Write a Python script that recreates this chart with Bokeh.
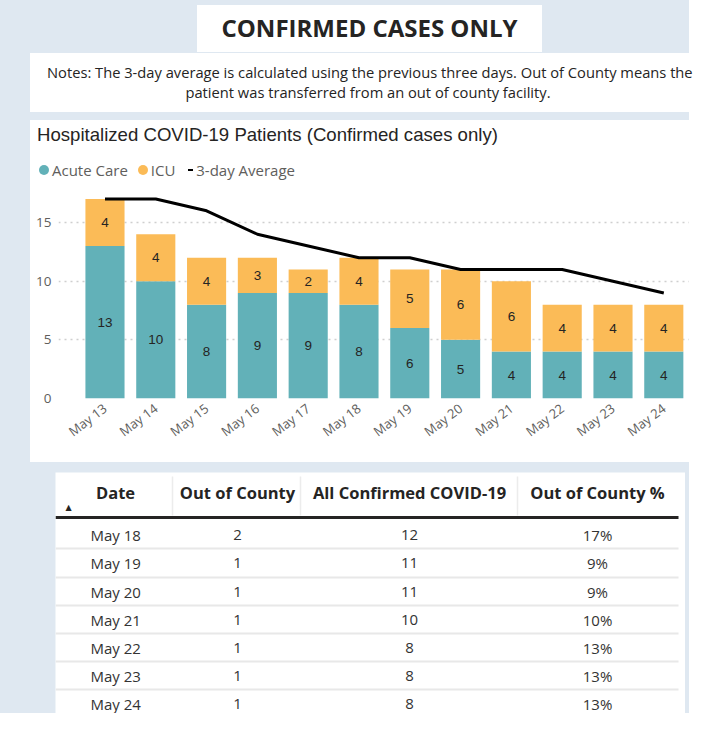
from bokeh.plotting import figure
from bokeh.models import ColumnDataSource, Range1d, FixedTicker, Div
from bokeh.layouts import column
from bokeh.core.properties import value
from bokeh.embed import file_html
from bokeh.resources import INLINE

# ---------------- data ----------------
dates = ["May 13", "May 14", "May 15", "May 16", "May 17", "May 18",
         "May 19", "May 20", "May 21", "May 22", "May 23", "May 24"]
acute = [13, 10, 8, 9, 9, 8, 6, 5, 4, 4, 4, 4]
icu = [4, 4, 4, 3, 2, 4, 5, 6, 6, 4, 4, 4]
avg3 = [17, 17, 16, 14, 13, 12, 12, 11, 11, 11, 10, 9]
y_ticks = [0, 5, 10, 15]

tbl_headers = ["Date", "Out of County", "All Confirmed COVID-19", "Out of County %"]
tbl_dates = ["May 18", "May 19", "May 20", "May 21", "May 22", "May 23", "May 24"]
tbl_out = [2, 1, 1, 1, 1, 1, 1]
tbl_all = [12, 11, 11, 10, 8, 8, 8]
tbl_pct = ["17%", "9%", "9%", "10%", "13%", "13%", "13%"]

title_text = "CONFIRMED CASES ONLY"
notes_line1 = "Notes: The 3-day average is calculated using the previous three days. Out of County means the"
notes_line2 = "patient was transferred from an out of county facility."
chart_title = "Hospitalized COVID-19 Patients (Confirmed cases only)"
legend_labels = ["Acute Care", "ICU", "3-day Average"]

# ---------------- style ----------------
BG = "#dfe8f1"
TEAL = "#62b1b8"
ORANGE = "#fbbb57"
DARK = "#252423"
GRAY = "#605e5c"
W, H = 689, 713

# ---------------- top (title + notes) ----------------
top_html = f"""
<div style="position:relative;width:{W}px;height:112px;">
  <div style="position:absolute;left:197px;top:5px;width:345px;height:47px;background:#ffffff;
       display:flex;align-items:center;justify-content:center;font-family:'Open Sans';font-weight:bold;
       font-size:24px;color:{DARK};white-space:nowrap;">{title_text}</div>
  <div style="position:absolute;left:30px;top:53px;width:659px;height:59px;background:#ffffff;
       font-family:'Open Sans';font-size:14.7px;line-height:20px;color:{DARK};
       text-align:center;white-space:nowrap;">
    <div style="padding-top:9px;padding-left:17px;">{notes_line1}</div>
    <div style="padding-left:17px;">{notes_line2}</div>
  </div>
</div>
"""
top_div = Div(text=top_html, width=W, height=112, margin=0)

# ---------------- chart header (title + legend) ----------------
dot = "display:inline-block;width:10px;height:10px;border-radius:50%;vertical-align:middle;margin-right:3px;"
head_html = f"""
<div style="position:relative;width:659px;height:60px;background:#ffffff;">
  <div style="position:absolute;left:7px;top:2px;font-family:'Liberation Sans';font-size:18.6px;color:{DARK};
       white-space:nowrap;">{chart_title}</div>
  <div style="position:absolute;left:9px;top:38px;font-family:'Open Sans';font-size:15px;color:{GRAY};
       white-space:nowrap;line-height:20px;">
    <span style="{dot}background:{TEAL};"></span><span style="vertical-align:middle;">{legend_labels[0]}</span>
    <span style="{dot}background:{ORANGE};margin-left:6px;"></span><span style="vertical-align:middle;">{legend_labels[1]}</span>
    <span style="display:inline-block;width:5px;height:2px;background:#000;vertical-align:middle;margin-left:9px;margin-right:3px;"></span><span style="vertical-align:middle;">{legend_labels[2]}</span>
  </div>
</div>
"""
head_div = Div(text=head_html, width=659, height=60, margin=0)

# ---------------- chart ----------------
xs = list(range(len(dates)))
src = ColumnDataSource(dict(
    x=xs, acute=acute, icu=icu, avg=avg3,
    acute_mid=[a / 2 for a in acute],
    icu_mid=[a + i / 2 for a, i in zip(acute, icu)],
    acute_lbl=[str(a) for a in acute],
    icu_lbl=[str(i) for i in icu],
))

p = figure(width=659, height=282, x_range=Range1d(-0.915, 11.506), y_range=Range1d(0, 17.56),
           output_backend="svg", toolbar_location=None, margin=0,
           min_border_left=28, min_border_right=0, min_border_top=12, min_border_bottom=64)
p.background_fill_color = "white"
p.border_fill_color = "white"
p.outline_line_color = None

p.vbar_stack(["acute", "icu"], x="x", width=0.77, fill_color=[TEAL, ORANGE],
             line_color=None, source=src)
p.line("x", "avg", line_color="black", line_width=3, source=src)

for ycol, tcol in (("acute_mid", "acute_lbl"), ("icu_mid", "icu_lbl")):
    p.text(x="x", y=ycol, text=tcol, source=src, text_align="center", text_baseline="middle",
           text_font=value("Liberation Sans"), text_font_size="13.5px", text_color=DARK)

p.xaxis.ticker = FixedTicker(ticks=xs)
p.xaxis.major_label_overrides = {i: d for i, d in enumerate(dates)}
p.xaxis.major_label_orientation = 0.65
p.yaxis.ticker = FixedTicker(ticks=y_ticks)
for ax in (p.xaxis, p.yaxis):
    ax.axis_line_color = None
    ax.major_tick_line_color = None
    ax.minor_tick_line_color = None
    ax.major_tick_out = 0
    ax.major_tick_in = 0
    ax.minor_tick_out = 0
    ax.minor_tick_in = 0
    ax.major_label_text_font = "Open Sans"
    ax.major_label_text_font_size = "13px"
    ax.major_label_text_color = GRAY
p.yaxis.major_label_text_font_size = "13.5px"
p.xaxis.major_label_standoff = 8
p.yaxis.major_label_standoff = 7
p.xgrid.visible = False
p.ygrid.grid_line_color = "#cfcfcf"
p.ygrid.grid_line_dash = "2 4"
p.ygrid.grid_line_width = 1.5

chart_col = column(head_div, p, margin=(8, 0, 0, 30), styles={"background-color": "white"})

# ---------------- table ----------------
TW, TH = 630, 241
t = figure(width=TW, height=TH, x_range=Range1d(0, TW), y_range=Range1d(TH, 0),
           output_backend="svg", toolbar_location=None, x_axis_location=None, y_axis_location=None,
           min_border=0, margin=(10, 0, 0, 55))
t.grid.visible = False
t.outline_line_color = None
t.background_fill_color = "white"
t.border_fill_color = "white"

hdr_x = [60, 182, 354, 542]
hdr_y = 20
sep_x = [117, 245, 462]
row_y = [62, 90, 119, 147, 175, 203, 231]
line_y = [76, 105, 133, 161, 189, 217]
line_x1 = 623

t.segment(x0=sep_x, y0=[4] * len(sep_x), x1=sep_x, y1=[43] * len(sep_x), line_color="#ececec", line_width=1.5)
t.segment(x0=[0] * len(line_y), y0=line_y, x1=[line_x1] * len(line_y), y1=line_y, line_color="#e8e8e8", line_width=2)
t.segment(x0=[0], y0=[45], x1=[line_x1], y1=[45], line_color=DARK, line_width=3)

t.text(x=hdr_x, y=[hdr_y] * len(hdr_x), text=tbl_headers, text_align="center", text_baseline="middle",
       text_font=value("Open Sans"), text_font_style="bold", text_font_size="16.5px", text_color=DARK)
t.text(x=[13], y=[35], text=["▲"], text_align="center", text_baseline="middle",
       text_font=value("DejaVu Sans"), text_font_size="8px", text_color=DARK)

tsrc = ColumnDataSource(dict(
    y=row_y, d=tbl_dates, o=[str(v) for v in tbl_out], a=[str(v) for v in tbl_all], pc=tbl_pct))
t.text(x=35, y="y", text="d", source=tsrc, text_align="left", text_baseline="middle",
       text_font=value("Open Sans"), text_font_size="15px", text_color="#333333")
for xc, col in ((hdr_x[1], "o"), (hdr_x[2], "a"), (hdr_x[3], "pc")):
    t.text(x=xc, y="y", text=col, source=tsrc, text_align="center", text_baseline="middle",
           text_font=value("Open Sans"), text_font_size="15px", text_color="#333333")

root = column(top_div, chart_col, t, width=W, height=H, styles={"background-color": BG})

open("out.html", "w").write(file_html(root, INLINE))
